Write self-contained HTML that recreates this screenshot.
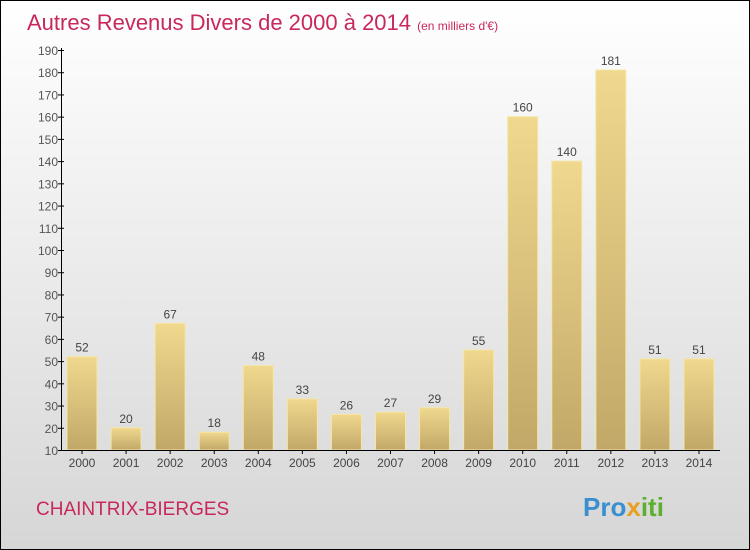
<!DOCTYPE html>
<html><head><meta charset="utf-8"><style>
body{margin:0;}
#c{width:750px;height:550px;position:relative;box-sizing:border-box;border:1px solid #000;background:linear-gradient(#ffffff,#d6d6d6);font-family:"Liberation Sans",sans-serif;overflow:hidden}
</style></head><body>
<div id="c">
<svg id="s" width="750" height="550" style="position:absolute;left:-1px;top:-1px">
<defs><linearGradient id="g" x1="0" y1="0" x2="0" y2="1"><stop offset="0" stop-color="#f0d88e"/><stop offset="1" stop-color="#c2a868"/></linearGradient></defs>
<text x="27" y="30" font-size="22" fill="#c8285a">Autres Revenus Divers de 2000 à 2014 <tspan font-size="12">(en milliers d'€)</tspan></text>
<text x="36" y="515" font-size="19" fill="#c8285a">CHAINTRIX-BIERGES</text>
<text x="583" y="516" font-size="26" font-weight="bold" fill="#3a8fd0">Pro<tspan fill="#e8a020">x</tspan><tspan fill="#5cb030">iti</tspan></text>
<g id="bars"></g><g id="axes"></g>
</svg></div>
<script>
const years=["2000","2001","2002","2003","2004","2005","2006","2007","2008","2009","2010","2011","2012","2013","2014"];
const values=[52,20,67,18,48,33,26,27,29,55,160,140,181,51,51];
const yTicks=[10,20,30,40,50,60,70,80,90,100,110,120,130,140,150,160,170,180,190];
const ns="http://www.w3.org/2000/svg";
const y=v=>450-(v-10)*400/180;
const x=i=>82+i*44.07;
function mk(t,a,p){const e=document.createElementNS(ns,t);for(const k in a)e.setAttribute(k,a[k]);p.appendChild(e);return e;}
const B=document.getElementById('bars'),A=document.getElementById('axes');
values.forEach((v,i)=>{
 const r=mk('rect',{x:x(i)-15,y:y(v),width:30,height:450-y(v),fill:'url(#g)',stroke:'#f5e6a8','stroke-width':1},B);
 
 
 const t=mk('text',{x:x(i),y:y(v)-5,'text-anchor':'middle','font-size':12,fill:'#444'},B);t.textContent=v;
 
 
 const l=mk('text',{x:x(i),y:467,'text-anchor':'middle','font-size':12,fill:'#444'},A);l.textContent=years[i];
 
 
 mk('line',{x1:x(i),x2:x(i),y1:450,y2:454,stroke:'#000'},A);
});
mk('line',{x1:61.5,x2:61.5,y1:48,y2:450,stroke:'#000'},A);
mk('line',{x1:61,x2:720,y1:450.5,y2:450.5,stroke:'#000'},A);
yTicks.forEach(v=>{
 mk('line',{x1:58,x2:64,y1:y(v)+.5,y2:y(v)+.5,stroke:'#000'},A);
 const t=mk('text',{x:58,y:y(v)+5,'text-anchor':'end','font-size':12,fill:'#555'},A);t.textContent=v;
 
 
});
</script>
</body></html>
